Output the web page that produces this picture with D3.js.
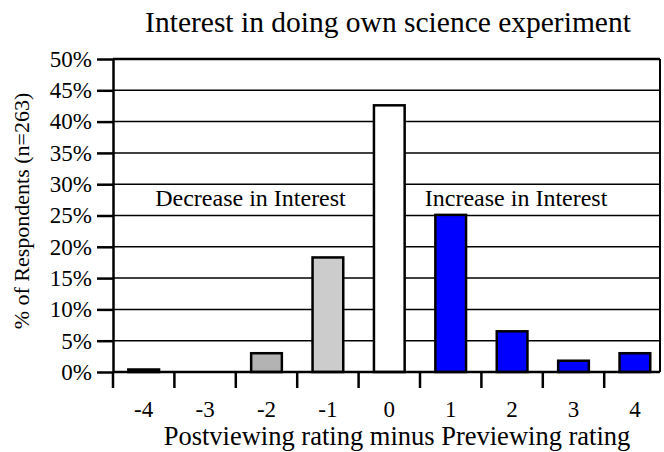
<!DOCTYPE html>
<html>
<head>
<meta charset="utf-8">
<script src="https://cdn.jsdelivr.net/npm/d3@7/dist/d3.min.js"></script>
<style>
  html, body { margin: 0; padding: 0; background: #fff; }
  text { font-family: "Liberation Serif", "Times New Roman", serif; fill: #000; }
</style>
</head>
<body>
<svg id="chart" width="664" height="452"></svg>
<script>
// ---- data ----
const categories = ["-4", "-3", "-2", "-1", "0", "1", "2", "3", "4"];
const percentValues = [0.4, 0.0, 3.0, 18.3, 42.6, 25.1, 6.5, 1.8, 3.0];
const barColors = ["#000000", "#0000ff", "#b3b3b3", "#cccccc", "#ffffff", "#0000ff", "#0000ff", "#0000ff", "#0000ff"];
const yTicks = [0, 5, 10, 15, 20, 25, 30, 35, 40, 45, 50];
const titleText = "Interest in doing own science experiment";
const xTitle = "Postviewing rating minus Previewing rating";
const yTitle = "% of Respondents (n=263)";
const annotations = [
  { text: "Decrease in Interest", at: "-2", shift: -16, value: 27.5 },
  { text: "Increase in Interest", at: "2", shift: 4, value: 27.5 }
];

// ---- layout ----
const svg = d3.select("#chart");
const plotL = 113, plotR = 660, plotT = 59, plotB = 372;
const step = 61.4;

const x = d3.scaleBand()
  .domain(categories)
  .range([plotL, plotL + step * categories.length])
  .paddingInner(0.5)
  .paddingOuter(0.25);

const y = d3.scaleLinear().domain([0, 50]).range([plotB, plotT]);

const data = categories.map((c, i) => ({ cat: c, value: percentValues[i], color: barColors[i] }));

// gridlines
svg.append("g")
  .selectAll("line")
  .data(yTicks.filter(t => t > 0 && t < 50))
  .join("line")
  .attr("x1", plotL).attr("x2", plotR)
  .attr("y1", d => y(d)).attr("y2", d => y(d))
  .attr("stroke", "#000").attr("stroke-width", 1.5);

// bars
svg.append("g")
  .selectAll("rect")
  .data(data)
  .join("rect")
  .attr("x", d => x(d.cat))
  .attr("width", x.bandwidth())
  .attr("y", d => y(d.value))
  .attr("height", d => y(0) - y(d.value))
  .attr("fill", d => d.color)
  .attr("stroke", d => d.value > 0 ? "#000" : d.color)
  .attr("stroke-width", 2.5);

// frame: top and right
svg.append("line")
  .attr("x1", plotL).attr("x2", plotR)
  .attr("y1", y(50)).attr("y2", y(50))
  .attr("stroke", "#000").attr("stroke-width", 2.5);
svg.append("line")
  .attr("x1", plotR).attr("x2", plotR)
  .attr("y1", y(50)).attr("y2", y(0))
  .attr("stroke", "#000").attr("stroke-width", 2);

// y axis
const yAxis = svg.append("g")
  .attr("transform", `translate(${plotL},0)`)
  .call(d3.axisLeft(y).tickValues(yTicks).tickFormat(d => d + "%").tickSize(16).tickSizeOuter(0).tickPadding(5));
yAxis.select(".domain").attr("stroke", "#000").attr("stroke-width", 2.5);
yAxis.selectAll(".tick line").attr("stroke", "#000").attr("stroke-width", 2.5);
yAxis.selectAll(".tick text")
  .style("font-family", '"Liberation Serif", "Times New Roman", serif')
  .style("font-size", "23px").attr("fill", "#000");

// x axis baseline
svg.append("line")
  .attr("x1", plotL).attr("x2", plotR)
  .attr("y1", y(0)).attr("y2", y(0))
  .attr("stroke", "#000").attr("stroke-width", 2.5);

// x boundary ticks
const gap = (x.step() - x.bandwidth()) / 2;
svg.append("g")
  .selectAll("line")
  .data(categories)
  .join("line")
  .attr("x1", d => x(d) - gap).attr("x2", d => x(d) - gap)
  .attr("y1", y(0)).attr("y2", y(0) + 16)
  .attr("stroke", "#000").attr("stroke-width", 2.5);

// x labels
const xAxis = svg.append("g")
  .attr("transform", `translate(0,${plotB})`)
  .call(d3.axisBottom(x).tickSize(0).tickPadding(29));
xAxis.select(".domain").remove();
xAxis.selectAll(".tick text")
  .style("font-family", '"Liberation Serif", "Times New Roman", serif')
  .style("font-size", "23px").attr("fill", "#000");

// annotations
svg.append("g")
  .selectAll("text")
  .data(annotations)
  .join("text")
  .attr("x", d => x(d.at) + x.bandwidth() / 2 + d.shift)
  .attr("y", d => y(d.value) + 6)
  .attr("text-anchor", "middle")
  .style("font-size", "24px")
  .text(d => d.text);

// titles
svg.append("text")
  .attr("x", 388).attr("y", 32)
  .attr("text-anchor", "middle")
  .style("font-size", "29.5px")
  .text(titleText);

svg.append("text")
  .attr("x", 397).attr("y", 445)
  .attr("text-anchor", "middle")
  .style("font-size", "26.5px")
  .text(xTitle);

svg.append("text")
  .attr("transform", "translate(29,211) rotate(-90)")
  .attr("text-anchor", "middle")
  .style("font-size", "22px")
  .text(yTitle);
</script>
</body>
</html>
